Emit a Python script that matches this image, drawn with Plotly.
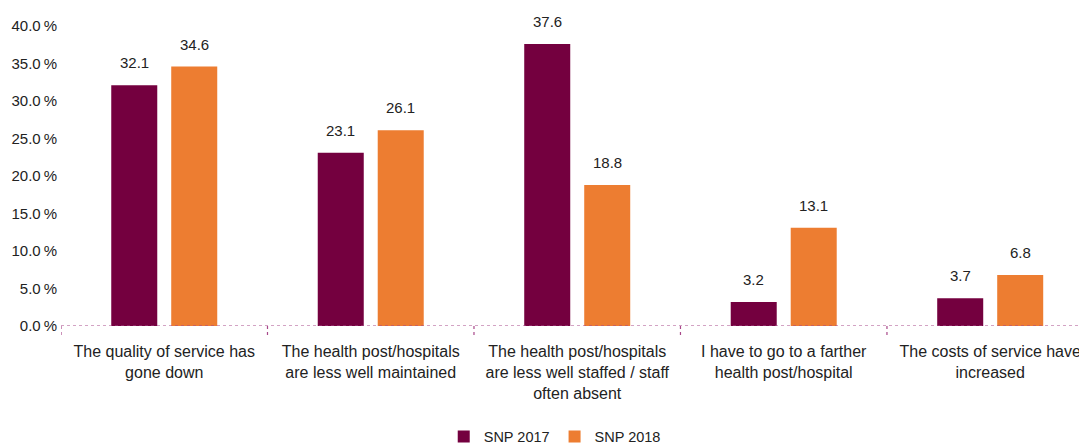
import plotly.graph_objects as go

categories = [
    "The quality of service has<br>gone down",
    "The health post/hospitals<br>are less well maintained",
    "The health post/hospitals<br>are less well staffed / staff<br>often absent",
    "I have to go to a farther<br>health post/hospital",
    "The costs of service have<br>increased",
]
snp_2017 = [32.1, 23.1, 37.6, 3.2, 3.7]
snp_2018 = [34.6, 26.1, 18.8, 13.1, 6.8]
y_ticks = [0, 5, 10, 15, 20, 25, 30, 35, 40]
y_tick_labels = [f"{v:.1f}\u2009%" for v in y_ticks]

C2017 = "#74003f"
C2018 = "#ed7d31"
AXIS = "#a8488a"
FONT = "Liberation Sans, Arial, sans-serif"
TXT = "#222222"
FS = 15

idx = list(range(len(categories)))

fig = go.Figure()
fig.add_trace(go.Bar(name="SNP 2017", x=idx, y=snp_2017, marker_color=C2017,
                     marker_line_width=0))
fig.add_trace(go.Bar(name="SNP 2018", x=idx, y=snp_2018, marker_color=C2018,
                     marker_line_width=0))

# value labels above bars
for series, shift in ((snp_2017, -30), (snp_2018, 30)):
    for i, v in enumerate(series):
        fig.add_annotation(x=i, y=v, xref="x", yref="y", text=f"{v:.1f}",
                           showarrow=False, yanchor="bottom", xshift=shift,
                           yshift=12, font=dict(family=FONT, size=FS, color=TXT))

# dotted baseline
fig.add_shape(type="line", xref="paper", yref="y", x0=0, x1=1, y0=0, y1=0,
              line=dict(color=AXIS, width=1.2, dash="dot"))
# dotted category boundary ticks
for i in range(len(categories)):
    fig.add_shape(type="line", xref="x", yref="paper", x0=i - 0.5, x1=i - 0.5,
                  y0=0, y1=-0.04, line=dict(color=AXIS, width=1.2, dash="dot"))

fig.update_layout(
    width=1079, height=446,
    margin=dict(l=61, r=0, t=26, b=120, autoexpand=False),
    paper_bgcolor="white", plot_bgcolor="white",
    barmode="group", bargap=0.419, bargroupgap=0.233,
    font=dict(family=FONT, size=FS, color=TXT),
    showlegend=True,
    legend=dict(orientation="h", x=0.485, xanchor="center", y=-0.315, yanchor="top",
                font=dict(family=FONT, size=14.5, color=TXT),
                itemwidth=30, traceorder="normal"),
    xaxis=dict(range=[-0.5, 4.43], tickmode="array", tickvals=idx,
               ticktext=categories, showgrid=False, zeroline=False,
               showline=False, ticks="", tickangle=0, automargin=False,
               ticklabelstandoff=14, ticklabeloverflow="allow",
               tickfont=dict(family=FONT, size=16, color=TXT)),
    yaxis=dict(range=[0, 40], tickmode="array", tickvals=y_ticks,
               ticktext=y_tick_labels, showgrid=False, zeroline=False,
               showline=False, ticks="", ticklabelstandoff=3, automargin=False,
               tickfont=dict(family=FONT, size=FS, color=TXT)),
)

fig.write_html("out.html", config={"displayModeBar": False},
               post_script="document.body.style.margin='0';document.body.style.overflow='hidden';")
